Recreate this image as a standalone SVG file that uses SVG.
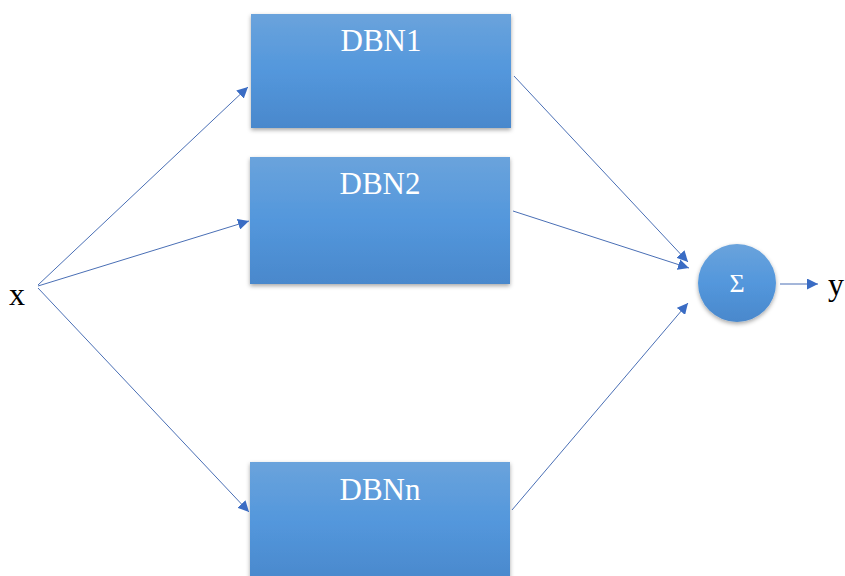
<svg xmlns="http://www.w3.org/2000/svg" width="845" height="576" viewBox="0 0 845 576">
<style>
.lbl{font-family:"Liberation Serif","Times New Roman",serif;fill:#fff;font-size:31px;text-anchor:middle}
.var{font-family:"Liberation Serif","Times New Roman",serif;fill:#000;font-size:32px}
.conn line{stroke:#4a6fb5;stroke-width:1;marker-end:url(#ah)}
</style>
<defs>
<linearGradient id="g" x1="0" y1="0" x2="0" y2="1">
<stop offset="0" stop-color="#6aa3dc"/>
<stop offset="0.5" stop-color="#5397dc"/>
<stop offset="1" stop-color="#4a88cc"/>
</linearGradient>
<filter id="sh" x="-10%" y="-10%" width="120%" height="130%">
<feDropShadow dx="0" dy="2" stdDeviation="2" flood-color="#000" flood-opacity="0.35"/>
</filter>
<marker id="ah" viewBox="0 0 10 10" refX="10" refY="5" markerWidth="11" markerHeight="11" markerUnits="userSpaceOnUse" orient="auto">
<path d="M0,0 L10,5 L0,10 z" fill="#3a6cc4"/>
</marker>
</defs>
<rect width="845" height="576" fill="#fff"/>
<g id="dbn1"><rect x="251" y="14" width="260" height="114" fill="url(#g)" filter="url(#sh)"/><text class="lbl" x="381" y="51">DBN1</text></g>
<g id="dbn2"><rect x="250" y="157" width="260" height="127" fill="url(#g)" filter="url(#sh)"/><text class="lbl" x="380" y="194">DBN2</text></g>
<g id="dbnn"><rect x="250" y="462" width="260" height="120" fill="url(#g)" filter="url(#sh)"/><text class="lbl" x="380" y="500">DBNn</text></g>
<g id="sum"><circle cx="737" cy="283" r="39" fill="url(#g)" filter="url(#sh)"/><text class="lbl" x="737" y="292" style="font-size:26px">Σ</text></g>
<g id="x"><text class="var" x="9" y="305">x</text></g>
<g id="y"><text class="var" x="828" y="295">y</text></g>
<g class="conn" id="connectors">
<line x1="38" y1="285" x2="248" y2="87"/>
<line x1="38" y1="286" x2="249" y2="221"/>
<line x1="38" y1="288" x2="249" y2="512"/>
<line x1="514" y1="76" x2="688" y2="262"/>
<line x1="513" y1="211" x2="689" y2="268"/>
<line x1="512" y1="510" x2="688" y2="303"/>
<line x1="780" y1="284" x2="818" y2="284"/>
</g>
</svg>
